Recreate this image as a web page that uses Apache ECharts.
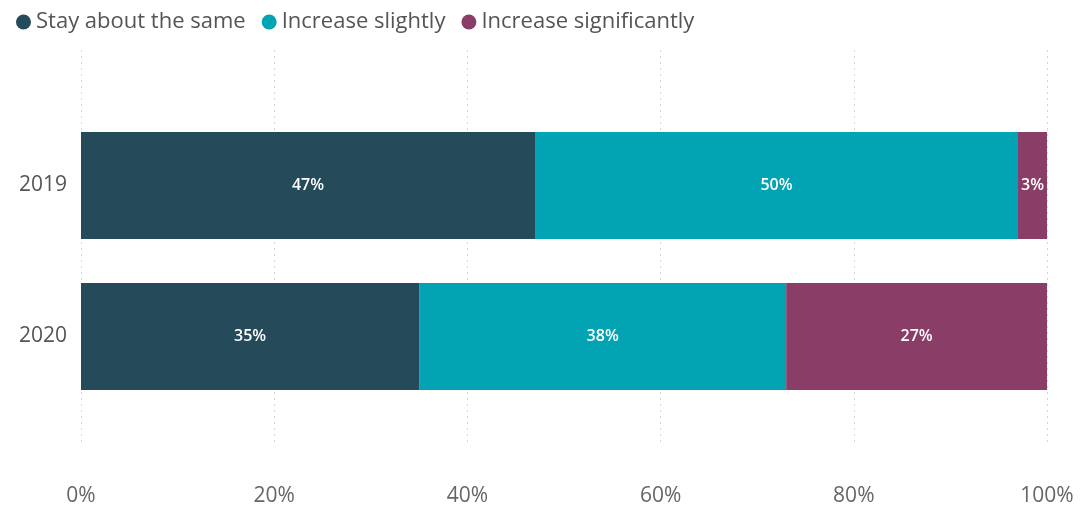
<!DOCTYPE html>
<html>
<head>
<meta charset="utf-8">
<script src="https://cdn.jsdelivr.net/npm/echarts@6/dist/echarts.min.js"></script>
<style>
  html, body { margin: 0; padding: 0; background: #fff; }
  #chart { width: 1081px; height: 509px; }
</style>
</head>
<body>
<div id="chart"></div>
<script>
// Survey answers per year, in percent of respondents
const years = ['2019', '2020'];
const seriesNames = ['Stay about the same', 'Increase slightly', 'Increase significantly'];
const stayAboutSame = [47, 35];
const increaseSlightly = [50, 38];
const increaseSignificantly = [3, 27];
const tickValues = [0, 20, 40, 60, 80, 100];

const colors = ['#254a59', '#02a3b2', '#8a3d67'];
const font = '"Open Sans", "Noto Sans", sans-serif';

const chart = echarts.init(document.getElementById('chart'));

function barSeries(name, values, color) {
  return {
    name: name,
    type: 'bar',
    stack: 'total',
    xAxisIndex: 0,
    yAxisIndex: 0,
    barWidth: 107,
    data: values,
    itemStyle: { color: color },
    label: {
      show: true,
      position: 'inside',
      color: '#ffffff',
      fontFamily: font,
      fontSize: 16,
      fontWeight: 600,
      formatter: p => p.value + '%'
    }
  };
}

chart.setOption({
  animation: false,
  color: colors,
  legend: {
    left: 11,
    top: 6,
    icon: 'circle',
    itemWidth: 15,
    itemHeight: 15,
    itemGap: 16,
    textStyle: { fontFamily: font, fontSize: 22, color: '#555' },
    data: seriesNames
  },
  grid: [
    { left: 81, right: 34, top: 110, bottom: 97 },
    { left: 81, right: 34, top: 50, bottom: 64 }
  ],
  xAxis: [
    {
      gridIndex: 0, type: 'value', min: 0, max: 100, interval: 20,
      axisLine: { show: false }, axisTick: { show: false },
      axisLabel: { show: false }, splitLine: { show: false }
    },
    {
      gridIndex: 1, type: 'value', min: 0, max: 100, interval: 20,
      axisLine: { show: false }, axisTick: { show: false },
      axisLabel: {
        show: true, margin: 41, fontFamily: font, fontSize: 21, color: '#666',
        formatter: v => tickValues.includes(v) ? v + '%' : ''
      },
      splitLine: { show: true, lineStyle: { color: '#d4d4d4', type: [2, 4], width: 1 } }
    }
  ],
  yAxis: [
    {
      gridIndex: 0, type: 'category', data: years, inverse: true,
      axisLine: { show: false }, axisTick: { show: false },
      axisLabel: { margin: 14, fontFamily: font, fontSize: 21, color: '#555' }
    },
    {
      gridIndex: 1, type: 'category', data: [''],
      axisLine: { show: false }, axisTick: { show: false }, axisLabel: { show: false }
    }
  ],
  series: [
    barSeries(seriesNames[0], stayAboutSame, colors[0]),
    barSeries(seriesNames[1], increaseSlightly, colors[1]),
    barSeries(seriesNames[2], increaseSignificantly, colors[2])
  ]
});
</script>
</body>
</html>
